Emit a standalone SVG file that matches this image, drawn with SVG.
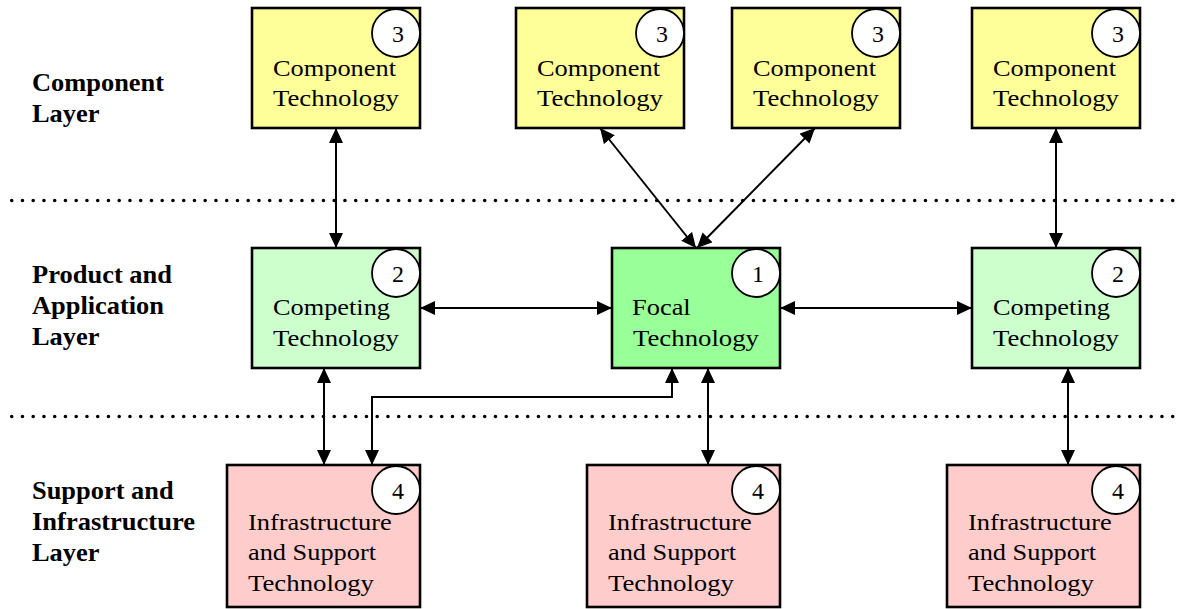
<svg xmlns="http://www.w3.org/2000/svg" width="1183" height="609" viewBox="0 0 1183 609" font-family="'Liberation Serif', 'Times New Roman', Times, serif">
<style>
  text { font-family: 'Liberation Serif', 'Times New Roman', Times, serif; font-size: 24px; fill: #000; }
  .lay { font-weight: bold; font-size: 25px; }
  .box { stroke: #000; stroke-width: 2.6; }
  .comp { fill: #FFFF99; }
  .compet { fill: #CCFFCC; }
  .focal { fill: #99FF99; }
  .infra { fill: #FFCCCC; }
  .badge { fill: #fff; stroke: #000; stroke-width: 1.8; }
  .num { text-anchor: middle; }
  .conn { fill: none; stroke: #000; stroke-width: 2; marker-start: url(#arr); marker-end: url(#arr); }
  .dots { fill: none; stroke: #000; stroke-width: 3.6; stroke-linecap: round; stroke-dasharray: 0 10.75; }
</style>
<defs>
  <marker id="arr" viewBox="0 0 15 14" refX="15" refY="7" markerWidth="15" markerHeight="14" markerUnits="userSpaceOnUse" orient="auto-start-reverse">
    <path d="M0,0 L15,7 L0,14 z" fill="#000"/>
  </marker>
</defs>
<rect width="1183" height="609" fill="#fff"/>

<g id="separators">
  <line class="dots" x1="11.7" y1="200.5" x2="1177" y2="200.5"/>
  <line class="dots" x1="11.7" y1="416.5" x2="1177" y2="416.5"/>
</g>

<g id="layer-labels">
  <text class="lay" x="32" y="91" textLength="132" lengthAdjust="spacingAndGlyphs">Component</text>
  <text class="lay" x="32" y="122" textLength="67.5" lengthAdjust="spacingAndGlyphs">Layer</text>
  <text class="lay" x="32" y="283" textLength="140" lengthAdjust="spacingAndGlyphs">Product and</text>
  <text class="lay" x="32" y="314" textLength="132" lengthAdjust="spacingAndGlyphs">Application</text>
  <text class="lay" x="32" y="345" textLength="67.5" lengthAdjust="spacingAndGlyphs">Layer</text>
  <text class="lay" x="32" y="499" textLength="141.6" lengthAdjust="spacingAndGlyphs">Support and</text>
  <text class="lay" x="32" y="530" textLength="163" lengthAdjust="spacingAndGlyphs">Infrastructure</text>
  <text class="lay" x="32" y="561" textLength="67.5" lengthAdjust="spacingAndGlyphs">Layer</text>
</g>

<g id="connectors">
  <line class="conn" x1="336" y1="128" x2="336" y2="248"/>
  <line class="conn" x1="600" y1="128" x2="696" y2="248"/>
  <line class="conn" x1="815" y1="128" x2="697" y2="248"/>
  <line class="conn" x1="1056" y1="128" x2="1056" y2="248"/>
  <line class="conn" x1="420" y1="308" x2="612" y2="308"/>
  <line class="conn" x1="780" y1="308" x2="972" y2="308"/>
  <line class="conn" x1="324" y1="368" x2="324" y2="465"/>
  <polyline class="conn" points="672,368 672,397 372,397 372,465"/>
  <line class="conn" x1="708" y1="368" x2="708" y2="465"/>
  <line class="conn" x1="1068" y1="368" x2="1068" y2="465"/>
</g>

<g id="comp1">
  <rect class="box comp" x="252" y="8" width="168" height="120"/>
  <circle class="badge" cx="396" cy="33" r="24"/>
  <text class="num" x="398" y="42">3</text>
  <text x="273" y="76" textLength="123" lengthAdjust="spacingAndGlyphs">Component</text>
  <text x="273" y="106" textLength="126" lengthAdjust="spacingAndGlyphs">Technology</text>
</g>
<g id="comp2">
  <rect class="box comp" x="516" y="8" width="168" height="120"/>
  <circle class="badge" cx="660" cy="33" r="24"/>
  <text class="num" x="662" y="42">3</text>
  <text x="537" y="76" textLength="123" lengthAdjust="spacingAndGlyphs">Component</text>
  <text x="537" y="106" textLength="126" lengthAdjust="spacingAndGlyphs">Technology</text>
</g>
<g id="comp3">
  <rect class="box comp" x="732" y="8" width="168" height="120"/>
  <circle class="badge" cx="876" cy="33" r="24"/>
  <text class="num" x="878" y="42">3</text>
  <text x="753" y="76" textLength="123" lengthAdjust="spacingAndGlyphs">Component</text>
  <text x="753" y="106" textLength="126" lengthAdjust="spacingAndGlyphs">Technology</text>
</g>
<g id="comp4">
  <rect class="box comp" x="972" y="8" width="168" height="120"/>
  <circle class="badge" cx="1116" cy="33" r="24"/>
  <text class="num" x="1118" y="42">3</text>
  <text x="993" y="76" textLength="123" lengthAdjust="spacingAndGlyphs">Component</text>
  <text x="993" y="106" textLength="126" lengthAdjust="spacingAndGlyphs">Technology</text>
</g>

<g id="competing-left">
  <rect class="box compet" x="252" y="248" width="168" height="120"/>
  <circle class="badge" cx="396" cy="273" r="24"/>
  <text class="num" x="398" y="282">2</text>
  <text x="273" y="315" textLength="117" lengthAdjust="spacingAndGlyphs">Competing</text>
  <text x="273" y="346" textLength="126" lengthAdjust="spacingAndGlyphs">Technology</text>
</g>
<g id="focal">
  <rect class="box focal" x="612" y="248" width="168" height="120"/>
  <circle class="badge" cx="756" cy="273" r="24"/>
  <text class="num" x="758" y="282">1</text>
  <text x="632" y="315" textLength="58.7" lengthAdjust="spacingAndGlyphs">Focal</text>
  <text x="633" y="346" textLength="126" lengthAdjust="spacingAndGlyphs">Technology</text>
</g>
<g id="competing-right">
  <rect class="box compet" x="972" y="248" width="168" height="120"/>
  <circle class="badge" cx="1116" cy="273" r="24"/>
  <text class="num" x="1118" y="282">2</text>
  <text x="993" y="315" textLength="117" lengthAdjust="spacingAndGlyphs">Competing</text>
  <text x="993" y="346" textLength="126" lengthAdjust="spacingAndGlyphs">Technology</text>
</g>

<g id="infra-left">
  <rect class="box infra" x="227" y="465" width="193" height="142"/>
  <circle class="badge" cx="396" cy="490" r="24"/>
  <text class="num" x="398" y="499">4</text>
  <text x="248" y="530" textLength="143.7" lengthAdjust="spacingAndGlyphs">Infrastructure</text>
  <text x="248" y="560" textLength="128" lengthAdjust="spacingAndGlyphs">and Support</text>
  <text x="248" y="591" textLength="126" lengthAdjust="spacingAndGlyphs">Technology</text>
</g>
<g id="infra-mid">
  <rect class="box infra" x="587" y="465" width="193" height="142"/>
  <circle class="badge" cx="756" cy="490" r="24"/>
  <text class="num" x="758" y="499">4</text>
  <text x="608" y="530" textLength="143.7" lengthAdjust="spacingAndGlyphs">Infrastructure</text>
  <text x="608" y="560" textLength="128" lengthAdjust="spacingAndGlyphs">and Support</text>
  <text x="608" y="591" textLength="126" lengthAdjust="spacingAndGlyphs">Technology</text>
</g>
<g id="infra-right">
  <rect class="box infra" x="947" y="465" width="193" height="142"/>
  <circle class="badge" cx="1116" cy="490" r="24"/>
  <text class="num" x="1118" y="499">4</text>
  <text x="968" y="530" textLength="143.7" lengthAdjust="spacingAndGlyphs">Infrastructure</text>
  <text x="968" y="560" textLength="128" lengthAdjust="spacingAndGlyphs">and Support</text>
  <text x="968" y="591" textLength="126" lengthAdjust="spacingAndGlyphs">Technology</text>
</g>
</svg>
